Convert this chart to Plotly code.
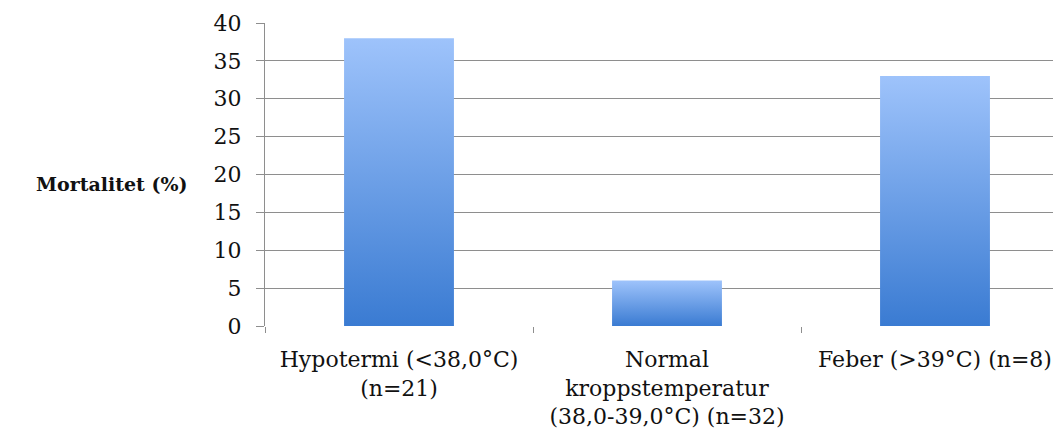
import plotly.graph_objects as go

categories = [
    "Hypotermi (<38,0°C)<br>(n=21)",
    "Normal<br>kroppstemperatur<br>(38,0-39,0°C) (n=32)",
    "Feber (>39°C) (n=8)",
]
mortality = [38, 6, 33]
y_ticks = [0, 5, 10, 15, 20, 25, 30, 35, 40]
y_title = "Mortalitet (%)"

BAR_W = 0.41
FONT = "DejaVu Serif"
GRID = "#8e8e8e"
TXT = "#111111"

fig = go.Figure()
for i, v in enumerate(mortality):
    x0, x1 = i - BAR_W / 2, i + BAR_W / 2
    fig.add_trace(go.Scatter(
        x=[x0, x0, x1, x1, x0],
        y=[0, v, v, 0, 0],
        mode="lines",
        line=dict(width=0),
        fill="toself",
        fillgradient=dict(type="vertical",
                          colorscale=[[0, "#3a7bd2"], [1, "#9ec3fb"]]),
        hoverinfo="skip",
        showlegend=False,
    ))

fig.update_layout(
    width=1061, height=436,
    margin=dict(l=257, r=0, t=15, b=118),
    paper_bgcolor="white", plot_bgcolor="white",
    font=dict(family=FONT, size=22, color=TXT),
    showlegend=False,
    xaxis=dict(
        range=[-0.5, 2.5],
        automargin=False,
        tickmode="array",
        tickvals=list(range(len(categories))),
        ticktext=categories,
        ticks="", showgrid=False, zeroline=False,
        showline=False,
        ticklabelstandoff=18,
        minor=dict(tickmode="array", tickvals=[-0.5, 0.5, 1.5, 2.5],
                   ticks="outside", ticklen=6, tickcolor=GRID, showgrid=False),
        fixedrange=True,
    ),
    yaxis=dict(
        range=[0, 40],
        automargin=False,
        tickmode="array", tickvals=y_ticks,
        ticks="outside", ticklen=8, tickcolor=GRID,
        showgrid=True, gridcolor=GRID, gridwidth=1,
        showline=True, linecolor=GRID, linewidth=1,
        zeroline=False,
        ticklabelstandoff=10,
        fixedrange=True,
    ),
    annotations=[dict(
        text="<b>" + y_title + "</b>",
        xref="paper", yref="y", x=0, y=18.8,
        xanchor="right", yanchor="middle", xshift=-75,
        showarrow=False, font=dict(family=FONT, size=19, color=TXT),
    )],
)

fig.write_html("out.html")
